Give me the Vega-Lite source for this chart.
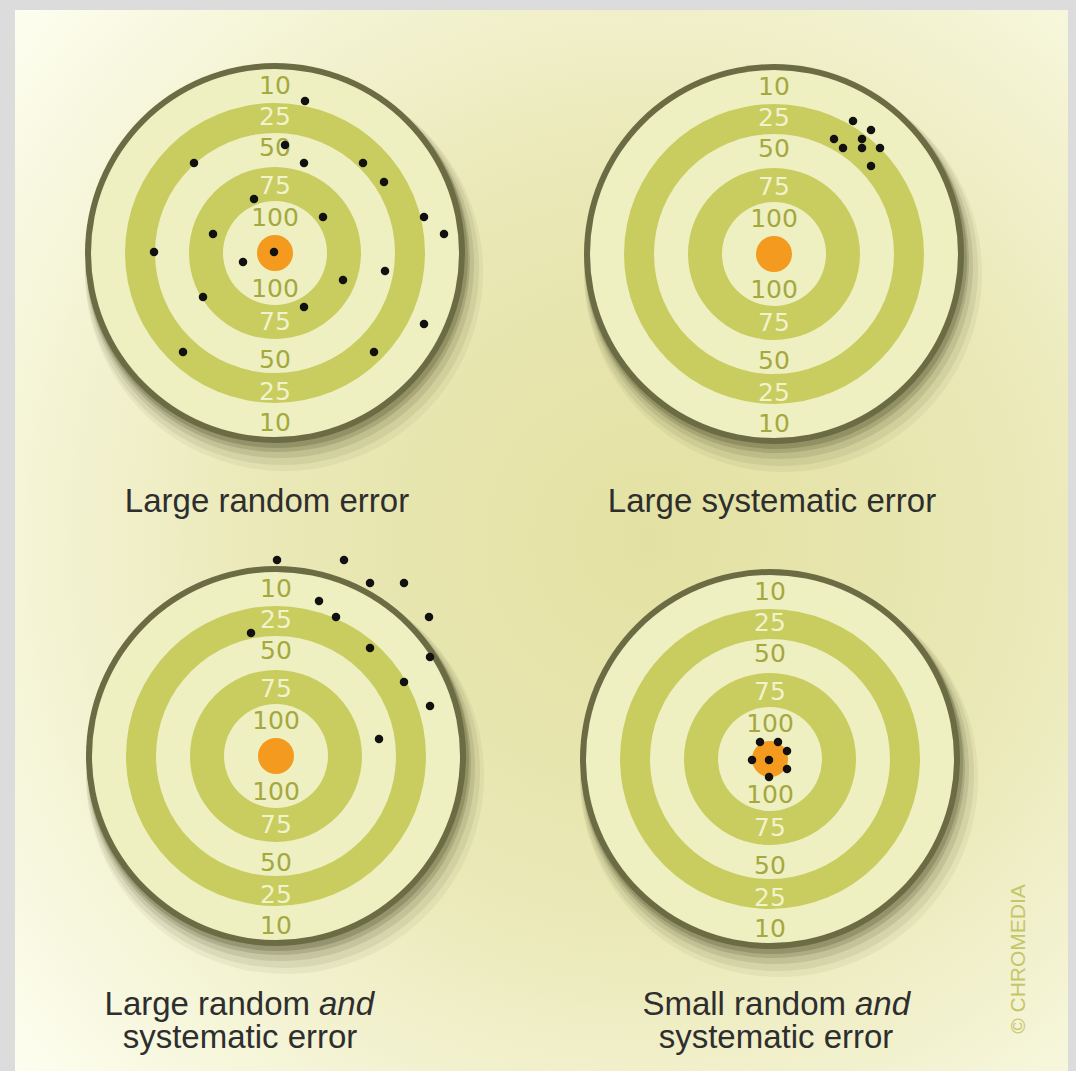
{
  "$schema": "https://vega.github.io/schema/vega-lite/v6.json",
  "autosize": {"type": "fit", "contains": "padding"},
  "width": 1076,
  "height": 1071,
  "padding": 0,
  "background": "#dcdcdc",
  "config": {"view": {"stroke": null}},
  "datasets": {
    "panel": [{"x": 15, "x2": 1068, "y": 10, "y2": 1071}],
    "targets": [
      {"target": "TL", "x": 275, "y": 253},
      {"target": "TR", "x": 774, "y": 254},
      {"target": "BL", "x": 276, "y": 756},
      {"target": "BR", "x": 770, "y": 759}
    ],
    "labels": [
      {"x": 275, "y": 86, "t": "10", "band": "light"},
      {"x": 275, "y": 117, "t": "25", "band": "olive"},
      {"x": 275, "y": 148, "t": "50", "band": "light"},
      {"x": 275, "y": 186, "t": "75", "band": "olive"},
      {"x": 275, "y": 218, "t": "100", "band": "light"},
      {"x": 275, "y": 289, "t": "100", "band": "light"},
      {"x": 275, "y": 322, "t": "75", "band": "olive"},
      {"x": 275, "y": 360, "t": "50", "band": "light"},
      {"x": 275, "y": 392, "t": "25", "band": "olive"},
      {"x": 275, "y": 423, "t": "10", "band": "light"},
      {"x": 774, "y": 87, "t": "10", "band": "light"},
      {"x": 774, "y": 118, "t": "25", "band": "olive"},
      {"x": 774, "y": 149, "t": "50", "band": "light"},
      {"x": 774, "y": 187, "t": "75", "band": "olive"},
      {"x": 774, "y": 219, "t": "100", "band": "light"},
      {"x": 774, "y": 290, "t": "100", "band": "light"},
      {"x": 774, "y": 323, "t": "75", "band": "olive"},
      {"x": 774, "y": 361, "t": "50", "band": "light"},
      {"x": 774, "y": 393, "t": "25", "band": "olive"},
      {"x": 774, "y": 424, "t": "10", "band": "light"},
      {"x": 276, "y": 589, "t": "10", "band": "light"},
      {"x": 276, "y": 620, "t": "25", "band": "olive"},
      {"x": 276, "y": 651, "t": "50", "band": "light"},
      {"x": 276, "y": 689, "t": "75", "band": "olive"},
      {"x": 276, "y": 721, "t": "100", "band": "light"},
      {"x": 276, "y": 792, "t": "100", "band": "light"},
      {"x": 276, "y": 825, "t": "75", "band": "olive"},
      {"x": 276, "y": 863, "t": "50", "band": "light"},
      {"x": 276, "y": 895, "t": "25", "band": "olive"},
      {"x": 276, "y": 926, "t": "10", "band": "light"},
      {"x": 770, "y": 592, "t": "10", "band": "light"},
      {"x": 770, "y": 623, "t": "25", "band": "olive"},
      {"x": 770, "y": 654, "t": "50", "band": "light"},
      {"x": 770, "y": 692, "t": "75", "band": "olive"},
      {"x": 770, "y": 724, "t": "100", "band": "light"},
      {"x": 770, "y": 795, "t": "100", "band": "light"},
      {"x": 770, "y": 828, "t": "75", "band": "olive"},
      {"x": 770, "y": 866, "t": "50", "band": "light"},
      {"x": 770, "y": 898, "t": "25", "band": "olive"},
      {"x": 770, "y": 929, "t": "10", "band": "light"}
    ],
    "dots": [
      {"x": 305, "y": 101}, {"x": 285, "y": 145}, {"x": 194, "y": 163}, {"x": 304, "y": 163},
      {"x": 363, "y": 163}, {"x": 384, "y": 182}, {"x": 254, "y": 199}, {"x": 323, "y": 217},
      {"x": 424, "y": 217}, {"x": 444, "y": 234}, {"x": 213, "y": 234}, {"x": 154, "y": 252},
      {"x": 274, "y": 252}, {"x": 243, "y": 262}, {"x": 385, "y": 271}, {"x": 343, "y": 280},
      {"x": 203, "y": 297}, {"x": 304, "y": 307}, {"x": 424, "y": 324}, {"x": 183, "y": 352},
      {"x": 374, "y": 352},
      {"x": 853, "y": 121}, {"x": 871, "y": 130}, {"x": 834, "y": 139}, {"x": 862, "y": 139},
      {"x": 843, "y": 148}, {"x": 862, "y": 148}, {"x": 880, "y": 148}, {"x": 871, "y": 166},
      {"x": 277, "y": 560}, {"x": 344, "y": 560}, {"x": 370, "y": 583}, {"x": 404, "y": 583},
      {"x": 319, "y": 601}, {"x": 336, "y": 617}, {"x": 429, "y": 617}, {"x": 251, "y": 633},
      {"x": 370, "y": 648}, {"x": 430, "y": 657}, {"x": 404, "y": 682}, {"x": 430, "y": 706},
      {"x": 379, "y": 739},
      {"x": 760, "y": 742}, {"x": 778, "y": 742}, {"x": 787, "y": 751}, {"x": 752, "y": 760},
      {"x": 769, "y": 760}, {"x": 787, "y": 769}, {"x": 769, "y": 777}
    ],
    "captions": [
      {"x": 267, "y": 512, "t": "Large random error"},
      {"x": 772, "y": 512, "t": "Large systematic error"},
      {"x": 240, "y": 1048, "t": "systematic error"},
      {"x": 776, "y": 1048, "t": "systematic error"}
    ],
    "captionsRight": [
      {"x": 310, "y": 1015, "t": "Large random"},
      {"x": 846, "y": 1015, "t": "Small random"}
    ],
    "captionsItalic": [
      {"x": 319, "y": 1015, "t": "and"},
      {"x": 855, "y": 1015, "t": "and"}
    ],
    "credit": [{"x": 1019, "y": 959, "t": "© CHROMEDIA"}]
  },
  "encoding": {
    "x": {"field": "x", "type": "quantitative", "scale": {"domain": [0, 1076], "nice": false, "zero": false}, "axis": null},
    "y": {"field": "y", "type": "quantitative", "scale": {"domain": [0, 1071], "reverse": true, "nice": false, "zero": false}, "axis": null}
  },
  "layer": [
    {
      "data": {"name": "panel"},
      "mark": {"type": "rect", "fill": {"gradient": "radial", "x1": 0.6, "y1": 0.5, "r1": 0, "x2": 0.6, "y2": 0.5, "r2": 0.78, "stops": [{"offset": 0, "color": "#e3e1a2"}, {"offset": 0.45, "color": "#eae8b6"}, {"offset": 1, "color": "#fdfef0"}]}},
      "encoding": {"x2": {"field": "x2"}, "y2": {"field": "y2"}}
    },
    {"data": {"name": "targets"}, "mark": {"type": "circle", "size": 158404, "color": "#4a4a28", "opacity": 0.06, "xOffset": 9, "yOffset": 19}},
    {"data": {"name": "targets"}, "mark": {"type": "circle", "size": 155236, "color": "#4a4a28", "opacity": 0.09, "xOffset": 7, "yOffset": 15}},
    {"data": {"name": "targets"}, "mark": {"type": "circle", "size": 150544, "color": "#4a4a28", "opacity": 0.13, "xOffset": 5, "yOffset": 11}},
    {"data": {"name": "targets"}, "mark": {"type": "circle", "size": 147456, "color": "#4a4a28", "opacity": 0.18, "xOffset": 3, "yOffset": 7}},
    {"data": {"name": "targets"}, "mark": {"type": "circle", "size": 145924, "color": "#4a4a28", "opacity": 0.25, "xOffset": 2, "yOffset": 4}},
    {"data": {"name": "targets"}, "mark": {"type": "circle", "size": 144400, "color": "#6b6c44", "opacity": 1}},
    {"data": {"name": "targets"}, "mark": {"type": "circle", "size": 135424, "color": "#eef0c2", "opacity": 1}},
    {"data": {"name": "targets"}, "mark": {"type": "circle", "size": 90000, "color": "#c9cc5e", "opacity": 1}},
    {"data": {"name": "targets"}, "mark": {"type": "circle", "size": 57600, "color": "#eef0c2", "opacity": 1}},
    {"data": {"name": "targets"}, "mark": {"type": "circle", "size": 29584, "color": "#c9cc5e", "opacity": 1}},
    {"data": {"name": "targets"}, "mark": {"type": "circle", "size": 10816, "color": "#eef0c2", "opacity": 1}},
    {"data": {"name": "targets"}, "mark": {"type": "circle", "size": 1296, "color": "#f39a1f", "opacity": 1}},
    {
      "data": {"name": "labels"},
      "mark": {"type": "text", "font": "DejaVu Sans", "fontSize": 25, "align": "center", "baseline": "middle"},
      "encoding": {
        "text": {"field": "t"},
        "color": {"field": "band", "type": "nominal", "scale": {"domain": ["light", "olive"], "range": ["#a5a83e", "#f1f3cc"]}, "legend": null}
      }
    },
    {"data": {"name": "dots"}, "mark": {"type": "circle", "size": 72, "color": "#111111", "opacity": 1}},
    {
      "data": {"name": "captions"},
      "mark": {"type": "text", "font": "Liberation Sans", "fontSize": 33, "align": "center", "baseline": "alphabetic", "color": "#2e2e2e"},
      "encoding": {"text": {"field": "t"}}
    },
    {
      "data": {"name": "captionsRight"},
      "mark": {"type": "text", "font": "Liberation Sans", "fontSize": 33, "align": "right", "baseline": "alphabetic", "color": "#2e2e2e"},
      "encoding": {"text": {"field": "t"}}
    },
    {
      "data": {"name": "captionsItalic"},
      "mark": {"type": "text", "font": "Liberation Sans", "fontSize": 33, "fontStyle": "italic", "align": "left", "baseline": "alphabetic", "color": "#2e2e2e"},
      "encoding": {"text": {"field": "t"}}
    },
    {
      "data": {"name": "credit"},
      "mark": {"type": "text", "font": "Liberation Sans", "fontSize": 21, "angle": 270, "align": "center", "baseline": "middle", "color": "#c4c66a"},
      "encoding": {"text": {"field": "t"}}
    }
  ]
}
